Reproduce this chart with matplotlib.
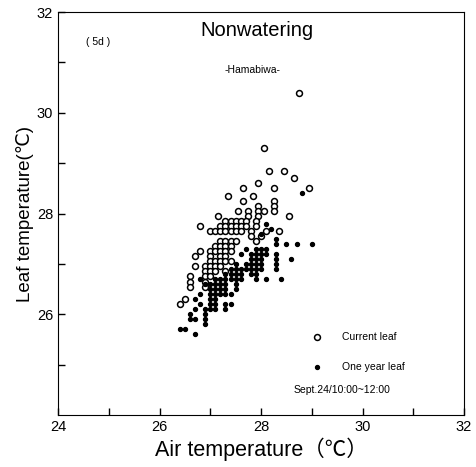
import numpy as np
import matplotlib
matplotlib.use('Agg')
import matplotlib.pyplot as plt
import matplotlib as mpl

mpl.rcParams['font.family'] = ['Liberation Sans', 'DejaVu Sans']

# current leaf (open circles)
cur_x = [28.75,
         28.05,
         28.15, 28.45,
         28.65,
         27.95,
         27.65, 28.25, 28.95,
         27.35, 27.85,
         27.65, 28.25,
         28.25, 27.95,
         27.55, 27.75, 27.95, 28.05, 28.25,
         27.15, 27.75, 27.95, 28.55,
         27.3, 27.4, 27.5, 27.6, 27.7, 27.9,
         26.8, 27.2, 27.3, 27.4, 27.5, 27.6, 27.7, 27.9,
         27.0, 27.1, 27.2, 27.3, 27.4, 27.5, 27.6, 27.8, 28.1, 28.35,
         27.8, 28.0,
         27.2, 27.3, 27.4, 27.5, 27.9,
         27.1, 27.2, 27.3, 27.4,
         26.8, 27.0, 27.1, 27.2, 27.3, 27.4,
         26.7, 27.0, 27.2, 27.3,
         27.0, 27.1, 27.2, 27.3, 27.4,
         26.7, 26.9, 27.0, 27.1, 27.2,
         26.9, 27.0, 27.1, 27.3,
         26.6, 26.9, 27.0,
         26.6, 26.9,
         26.6, 26.9,
         26.5,
         26.4]
cur_y = [30.4,
         29.3,
         28.85, 28.85,
         28.7,
         28.6,
         28.5, 28.5, 28.5,
         28.35, 28.35,
         28.25, 28.25,
         28.15, 28.15,
         28.05, 28.05, 28.05, 28.05, 28.05,
         27.95, 27.95, 27.95, 27.95,
         27.85, 27.85, 27.85, 27.85, 27.85, 27.85,
         27.75, 27.75, 27.75, 27.75, 27.75, 27.75, 27.75, 27.75,
         27.65, 27.65, 27.65, 27.65, 27.65, 27.65, 27.65, 27.65, 27.65, 27.65,
         27.55, 27.55,
         27.45, 27.45, 27.45, 27.45, 27.45,
         27.35, 27.35, 27.35, 27.35,
         27.25, 27.25, 27.25, 27.25, 27.25, 27.25,
         27.15, 27.15, 27.15, 27.15,
         27.05, 27.05, 27.05, 27.05, 27.05,
         26.95, 26.95, 26.95, 26.95, 26.95,
         26.85, 26.85, 26.85, 26.85,
         26.75, 26.75, 26.75,
         26.65, 26.65,
         26.55, 26.55,
         26.3,
         26.2]

# one year leaf (filled dots)
old_x = [28.8,
         28.1,
         28.2,
         28.0,
         28.3,
         28.3, 28.5, 28.7, 29.0,
         27.7, 27.9, 28.0, 28.1,
         27.6, 27.8, 27.9, 28.0, 28.1, 28.3,
         27.8, 27.9, 28.0, 28.3, 28.6,
         27.5, 27.7, 27.8, 27.9, 28.0, 28.3,
         27.4, 27.5, 27.6, 27.7, 27.8, 27.9, 28.0, 28.3,
         27.3, 27.4, 27.5, 27.6, 27.8, 27.9,
         26.8, 27.1, 27.2, 27.3, 27.4, 27.5, 27.6, 27.9, 28.1, 28.4,
         26.9, 27.0, 27.1, 27.2, 27.3, 27.5,
         27.0, 27.1, 27.2, 27.3, 27.5,
         26.8, 27.0, 27.1, 27.2, 27.3, 27.4,
         26.7, 27.0, 27.1,
         26.8, 27.0, 27.1, 27.3, 27.4,
         26.7, 26.9, 27.0, 27.1, 27.3,
         26.6, 26.9,
         26.6, 26.7, 26.9,
         26.9,
         26.4, 26.5,
         26.7]
old_y = [28.4,
         27.8,
         27.7,
         27.6,
         27.5,
         27.4, 27.4, 27.4, 27.4,
         27.3, 27.3, 27.3, 27.3,
         27.2, 27.2, 27.2, 27.2, 27.2, 27.2,
         27.1, 27.1, 27.1, 27.1, 27.1,
         27.0, 27.0, 27.0, 27.0, 27.0, 27.0,
         26.9, 26.9, 26.9, 26.9, 26.9, 26.9, 26.9, 26.9,
         26.8, 26.8, 26.8, 26.8, 26.8, 26.8,
         26.7, 26.7, 26.7, 26.7, 26.7, 26.7, 26.7, 26.7, 26.7, 26.7,
         26.6, 26.6, 26.6, 26.6, 26.6, 26.6,
         26.5, 26.5, 26.5, 26.5, 26.5,
         26.4, 26.4, 26.4, 26.4, 26.4, 26.4,
         26.3, 26.3, 26.3,
         26.2, 26.2, 26.2, 26.2, 26.2,
         26.1, 26.1, 26.1, 26.1, 26.1,
         26.0, 26.0,
         25.9, 25.9, 25.9,
         25.8,
         25.7, 25.7,
         25.6]

fig = plt.figure(figsize=(4.77, 4.67), dpi=100)
ax = fig.add_axes([58/477, 52/467, 406/477, 403/467])

ax.scatter(cur_x, cur_y, s=18, facecolors='white', edgecolors='black',
           linewidths=1.1, label='Current leaf', zorder=2)
ax.scatter(old_x, old_y, s=8, color='black', label='One year leaf', zorder=3)

ax.set_xlim(24, 32)
ax.set_ylim(24, 32)
ax.set_xticks([24, 26, 28, 30, 32])
ax.set_yticks([26, 28, 30, 32])
ax.set_xticks([25, 27, 29, 31], minor=True)
ax.set_yticks([25, 27, 29, 31], minor=True)
ax.tick_params(which='both', direction='in', length=5, width=1, labelsize=10.5)
ax.tick_params(which='both', top=False, right=False)

ax.set_xlabel('Air temperature（℃）', fontsize=15.5, labelpad=3,
              family=['Liberation Sans', 'Noto Sans CJK JP'])
ax.set_ylabel('Leaf temperature(℃)', fontsize=13.5, labelpad=2)

ax.text(0.49, 0.955, 'Nonwatering', transform=ax.transAxes, fontsize=14.5,
        ha='center', va='center')
ax.text(0.1, 0.925, '( 5d )', transform=ax.transAxes, fontsize=7.5,
        ha='center', va='center')
ax.text(0.48, 0.855, '-Hamabiwa-', transform=ax.transAxes, fontsize=7.5,
        ha='center', va='center')
ax.text(0.58, 0.062, 'Sept.24/10:00~12:00', transform=ax.transAxes,
        fontsize=7.5, ha='left', va='center')

ax.legend(loc='lower left', bbox_to_anchor=(0.6, 0.095), frameon=False,
          fontsize=7.5, labelspacing=1.9, handletextpad=1.4,
          scatterpoints=1, borderpad=0)

plt.savefig('out.png', dpi=100)
